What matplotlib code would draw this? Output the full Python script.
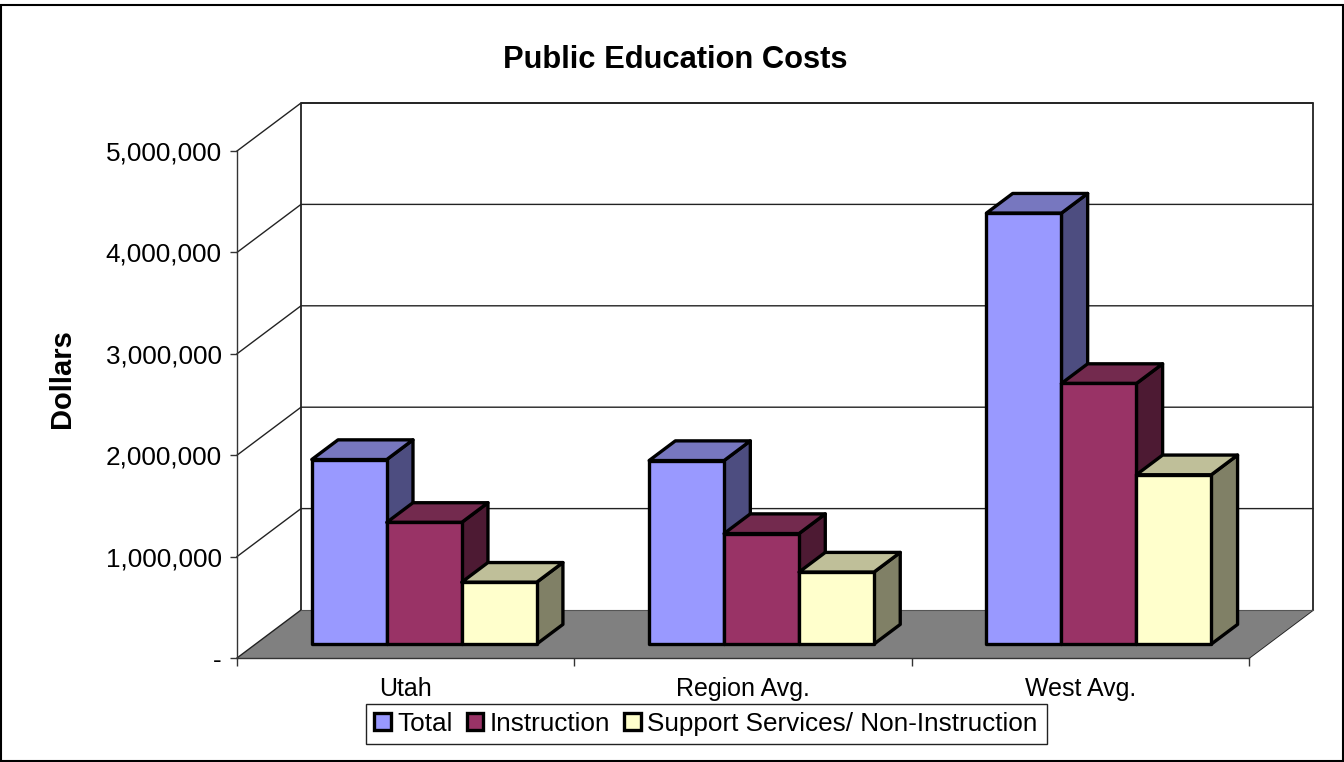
import matplotlib
matplotlib.use('Agg')
import matplotlib.pyplot as plt
from matplotlib.patches import Polygon, Rectangle, Patch

plt.rcParams['font.family'] = ['Liberation Sans', 'DejaVu Sans']

categories = ['Utah', 'Region Avg.', 'West Avg.']
series_names = ['Total', 'Instruction', 'Support Services/ Non-Instruction']
total = [1820000, 1810000, 4250000]
instruction = [1200000, 1090000, 2570000]
support = [610000, 710000, 1670000]
y_ticks = [0, 1000000, 2000000, 3000000, 4000000, 5000000]
y_labels = ['-', '1,000,000', '2,000,000', '3,000,000', '4,000,000', '5,000,000']

front_cols = ['#9999ff', '#993366', '#ffffcc']
top_cols = ['#7777bf', '#732a4e', '#bfbf99']
side_cols = ['#4d4d80', '#4d1a33', '#808066']

W, H = 1344, 762
# depth of the fake 3d box, in axis units
DX = 64 / 337.33
DY = 48 / 101.4 * 1e6
GAP = 1.5
BAR_W = 1 / (3 + GAP)
D0, D1 = 0.29, 0.70


def proj(x, y, d):
    return (x + d * DX, y + d * DY)


fig = plt.figure(figsize=(W / 100, H / 100), dpi=100, facecolor='white')
fig.add_artist(Rectangle((1 / W, 1 / H), (W - 2) / W, (H - 6) / H, transform=fig.transFigure,
                         fill=False, ec='black', lw=1.5))

ax = fig.add_axes([237 / W, 1 - 658 / H, 1012 / W, 507 / H])
ax.set_xlim(0, 3)
ax.set_ylim(0, 5000000)
ax.patch.set_visible(False)
for s in ['top', 'right']:
    ax.spines[s].set_visible(False)
for s in ['left', 'bottom']:
    ax.spines[s].set_linewidth(1)
    ax.spines[s].set_color('#333333')

# walls and floor
ax.add_patch(Polygon([proj(0, 0, 0), proj(0, 0, 1), proj(3, 0, 1), proj(3, 0, 0)],
                     fc='#808080', ec='none', clip_on=False, zorder=1))
for v in y_ticks[1:]:
    ax.plot(*zip(proj(0, v, 0), proj(0, v, 1), proj(3, v, 1)), color='#222222', lw=1,
            clip_on=False, zorder=0.5)
ax.plot(*zip(proj(0, 0, 1), proj(0, 5000000, 1), proj(3, 5000000, 1), proj(3, 0, 1), proj(3, 0, 0)),
        color='#222222', lw=1.3, clip_on=False, zorder=0.6)
ax.plot(*zip(proj(0, 0, 0), proj(0, 0, 1)), color='#222222', lw=1, clip_on=False, zorder=1.5)
ax.plot(*zip(proj(0, 0, 1), proj(3, 0, 1)), color='#555555', lw=0.8, clip_on=False, zorder=1.5)

# bars, drawn back to front left to right
for c in range(len(categories)):
    for i, vals in enumerate([total, instruction, support]):
        x0 = c + GAP / 2 * BAR_W + i * BAR_W
        x1 = x0 + BAR_W
        v = vals[c]
        z = 2 + c + i * 0.1
        kw = dict(ec='black', lw=2.4, joinstyle='round', clip_on=False, zorder=z)
        ax.add_patch(Polygon([proj(x1, 0, D0), proj(x1, 0, D1), proj(x1, v, D1), proj(x1, v, D0)],
                             fc=side_cols[i], **kw))
        ax.add_patch(Polygon([proj(x0, v, D0), proj(x0, v, D1), proj(x1, v, D1), proj(x1, v, D0)],
                             fc=top_cols[i], **kw))
        ax.add_patch(Polygon([proj(x0, 0, D0), proj(x1, 0, D0), proj(x1, v, D0), proj(x0, v, D0)],
                             fc=front_cols[i], **kw))

ax.set_yticks(y_ticks)
ax.set_yticklabels(y_labels, fontsize=18.8)
ax.tick_params(axis='y', length=5, width=1, color='#333333', pad=6)
ax.set_xticks([0, 1, 2, 3])
ax.set_xticklabels([])
ax.tick_params(axis='x', length=6, width=1, color='#333333')
ax.set_xticks([0.5, 1.5, 2.5], labels=categories, minor=True, fontsize=18)
ax.tick_params(axis='x', which='minor', length=0, pad=14)

fig.text(675 / W, 1 - 60 / H, 'Public Education Costs', fontsize=22.2, fontweight='bold',
         ha='center', va='center')
fig.text(62 / W, 1 - 379 / H, 'Dollars', fontsize=21, fontweight='bold', rotation=90,
         ha='center', va='center')

# legend box drawn apart so its padding can differ from the entries
fig.add_artist(Rectangle((366 / W, 1 - 743.5 / H), 681 / W, 40 / H, transform=fig.transFigure,
                         fc='white', ec='#222222', lw=1))
handles = [Patch(fc=front_cols[i], ec='black', lw=2.4, label=series_names[i]) for i in range(3)]
leg = fig.legend(handles=handles, loc='center', bbox_to_anchor=(706 / W, 1 - 724 / H),
                 ncol=3, fontsize=18.8, frameon=False,
                 handlelength=0.62, handleheight=0.62, handletextpad=0.25, columnspacing=0.55,
                 borderpad=0.25, borderaxespad=0)
leg.set_zorder(5)

fig.savefig('out.png', dpi=100, facecolor='white')
